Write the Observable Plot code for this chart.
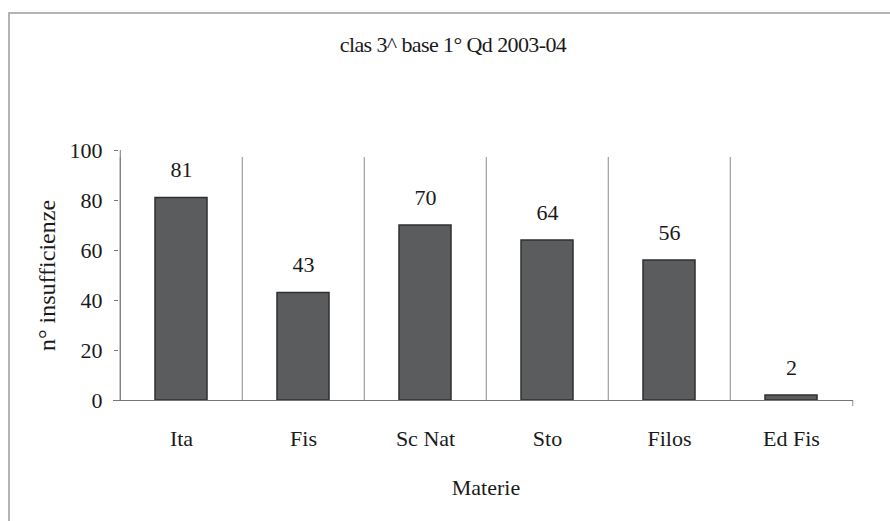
<!DOCTYPE html>
<html>
<head>
<meta charset="utf-8">
<script src="https://cdn.jsdelivr.net/npm/d3@7"></script>
<script src="https://cdn.jsdelivr.net/npm/@observablehq/plot@0.6"></script>
<style>
  html, body { margin: 0; padding: 0; background: #fff; }
  #wrap { position: relative; width: 890px; height: 521px; overflow: hidden; background: #fff; }
  #frame { position: absolute; left: 8px; top: 12px; width: 1000px; height: 1000px;
           border-left: 2px solid #b4b4b4; border-top: 2px solid #b4b4b4; }
  #title { position: absolute; left: 0; top: 31px; width: 906px; text-align: center;
           font-family: "Liberation Serif", "Times New Roman", Times, serif; font-size: 22px; line-height: 28px;
           letter-spacing: -0.6px; color: #1a1a1a; }
  #chart { position: absolute; left: 0; top: 0; }
  #chart svg, #chart svg text { font-family: "Liberation Serif", "Times New Roman", Times, serif !important; }
</style>
</head>
<body>
<div id="wrap">
  <div id="frame"></div>
  <div id="chart"></div>
  <div id="title">clas 3^ base 1° Qd 2003-04</div>
</div>
<script>
const categories = ["Ita", "Fis", "Sc Nat", "Sto", "Filos", "Ed Fis"];
const values = [81, 43, 70, 64, 56, 2];
const yTicks = [0, 20, 40, 60, 80, 100];
const xLabel = "Materie";
const yLabel = "n° insufficienze";

const data = categories.map((c, i) => ({cat: c, val: values[i]}));

const W = 890, H = 521;
const mL = 118, mR = 37, mT = 150, mB = 121;
const half = (W - mL - mR) / categories.length / 2;
const serif = "'Liberation Serif', 'Times New Roman', Times, serif";
const ink = "#1a1a1a";

const plot = Plot.plot({
  width: W,
  height: H,
  marginLeft: mL,
  marginRight: mR,
  marginTop: mT,
  marginBottom: mB,
  style: {fontFamily: serif, color: ink, background: "transparent", overflow: "visible"},
  x: {domain: categories, padding: 0},
  y: {domain: [0, 100]},
  marks: [
    Plot.ruleX(categories, {x: d => d, dx: -half, y1: 0, y2: 100, insetBottom: -7,
      stroke: "#8a8a8a", strokeWidth: 1}),
    Plot.ruleX(categories.slice(-1), {x: d => d, dx: half, y1: 0, y2: 0, insetBottom: -6,
      stroke: "#8a8a8a", strokeWidth: 1}),
    Plot.ruleX(categories.slice(0, 1), {x: d => d, dx: -half, y1: 0, y2: 100,
      stroke: "#777", strokeWidth: 1}),
    Plot.barY(data, {x: "cat", y: "val", fill: "#5a5c5e", stroke: "#2f2f2f", strokeWidth: 1.5,
      insetLeft: 35, insetRight: 35}),
    Plot.ruleY([0], {stroke: "#777", strokeWidth: 1, insetLeft: -5}),
    Plot.axisY({ticks: yTicks, tickSize: 4, tickPadding: 12, fontSize: 22, label: null,
      stroke: "#777", fill: ink, style: {letterSpacing: "-0.3px"}}),
    Plot.axisX({tickSize: 0, tickPadding: 30, fontSize: 22, label: null, fill: ink,
      style: {letterSpacing: "-0.8px"}}),
    Plot.text(data, {x: "cat", y: "val", text: d => String(d.val), dy: -21,
      lineAnchor: "bottom", fontSize: 22, fill: ink}),
    Plot.text([xLabel], {frameAnchor: "bottom", dy: 94, fontSize: 22, fill: ink,
      textAnchor: "middle", style: {letterSpacing: "-0.8px"}}),
    Plot.text([yLabel], {frameAnchor: "left", dx: -71, rotate: -90, fontSize: 24,
      textAnchor: "middle", fill: ink, style: {letterSpacing: "1.5px"}})
  ]
});
document.getElementById("chart").appendChild(plot);
</script>
</body>
</html>
